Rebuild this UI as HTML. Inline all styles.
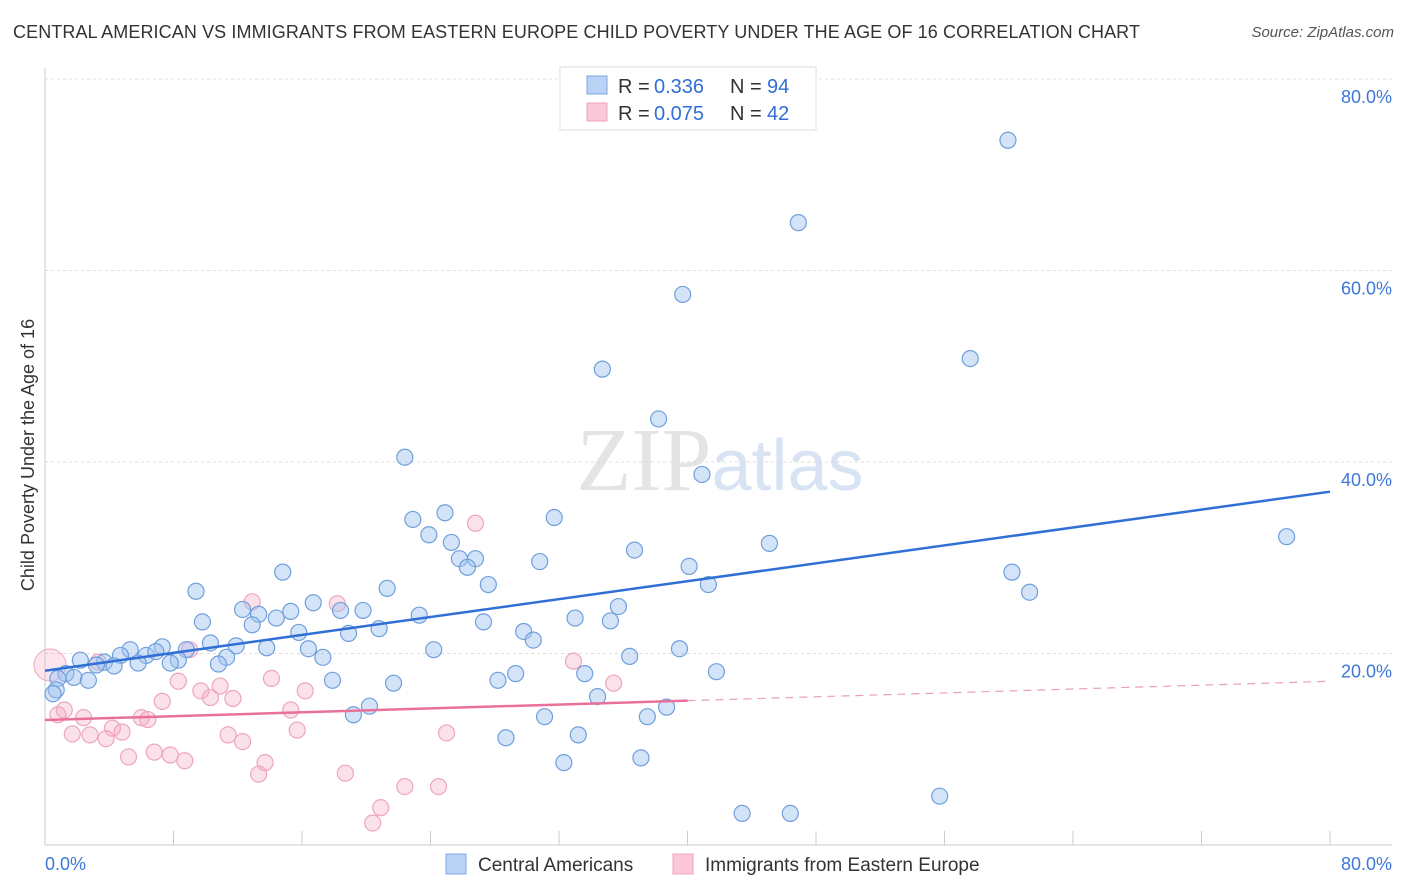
<!DOCTYPE html>
<html><head><meta charset="utf-8">
<style>
body{margin:0;background:#fff;font-family:"Liberation Sans",sans-serif;}
#wrap{position:relative;width:1406px;height:892px;overflow:hidden;}
.title{position:absolute;left:13px;top:22px;font-size:18px;color:#333;letter-spacing:0.1px}
.src{position:absolute;right:12px;top:24px;font-size:15px;color:#555;font-style:italic}
</style></head><body>
<div id="wrap">
<div class="title">CENTRAL AMERICAN VS IMMIGRANTS FROM EASTERN EUROPE CHILD POVERTY UNDER THE AGE OF 16 CORRELATION CHART</div>
<div class="src">Source: ZipAtlas.com</div>
<svg id="svg" width="1406" height="892" style="position:absolute;left:0;top:0"></svg>
</div>
<script>
const yTicks=[20,40,60,80];
const yTickLabels=["20.0%","40.0%","60.0%","80.0%"];
const blueX=[59.95,46.9,39.7,57.6,34.7,38.2,40.9,22.4,22.9,24.9,31.7,23.9,25.3,36.7,45.1,77.3,25.8,26.8,30.8,26.3,40.1,60.2,14.8,21.3,27.6,41.3,61.3,9.4,12.3,16.7,15.3,18.4,19.8,13.3,23.3,35.7,9.8,12.9,14.4,27.3,33.0,35.2,15.8,20.8,18.9,29.8,30.4,10.3,11.9,7.3,5.3,8.8,13.8,16.4,24.2,39.5,36.4,4.7,6.3,6.9,2.2,3.7,17.3,8.3,11.3,3.2,4.3,5.8,7.8,10.8,1.3,0.8,1.8,2.7,29.3,33.6,41.8,17.9,21.7,28.2,0.7,0.5,34.4,20.2,19.2,31.1,37.5,38.7,33.2,28.7,32.3,37.1,43.4,46.4,55.7];
const blueY=[73.6,65.0,57.5,50.8,49.7,44.5,38.7,40.5,34.0,34.7,34.2,32.4,31.6,30.8,31.5,32.2,29.9,29.9,29.6,29.0,29.1,28.5,28.5,26.8,27.2,27.2,26.4,26.5,24.6,25.3,24.4,24.5,24.5,24.1,24.0,24.9,23.3,23.0,23.7,23.3,23.7,23.4,22.2,22.6,22.1,22.3,21.4,21.1,20.8,20.7,20.4,20.4,20.6,20.5,20.4,20.5,19.7,19.8,19.8,20.2,19.3,19.1,19.6,19.3,19.6,18.8,18.7,19.0,19.0,18.9,17.9,17.4,17.5,17.2,17.9,17.9,18.1,17.2,16.9,17.2,16.2,15.8,15.5,14.5,13.6,13.4,13.4,14.4,11.5,11.2,8.6,9.1,3.3,3.3,5.1];
const pinkX=[26.8,12.9,18.2,32.9,3.3,9.0,8.3,14.1,35.4,7.3,10.9,16.2,9.7,10.3,11.7,15.3,1.2,0.8,2.4,6.0,6.4,4.2,4.8,15.7,1.7,2.8,3.8,11.4,12.3,25.0,6.8,5.2,7.8,8.7,13.7,13.3,18.7,22.4,24.5,20.9,20.4];
const pinkY=[33.6,25.4,25.2,19.2,19.1,20.4,17.1,17.4,16.9,15.0,16.6,16.1,16.1,15.4,15.3,14.1,14.1,13.6,13.3,13.3,13.1,12.2,11.8,12.0,11.6,11.5,11.1,11.5,10.8,11.7,9.7,9.2,9.4,8.8,8.6,7.4,7.5,6.1,6.1,3.9,2.3];
const blueLine=[18.2,36.9];   // y at x=0, y at x=80
const pinkLine=[13.05,17.1];
const NS="http://www.w3.org/2000/svg";
const svg=document.getElementById('svg');
const X0=45,X1=1330,Y0=845,Y80=79;
const sx=v=>X0+(X1-X0)*v/80;
const sy=v=>Y0-(Y0-Y80)*v/80;
function mk(t,a,p){const e=document.createElementNS(NS,t);for(const k in a)e.setAttribute(k,a[k]);(p||svg).appendChild(e);return e;}
// watermark
let wm=mk('text',{x:720,y:490,'text-anchor':'middle','font-size':90,'font-family':'Liberation Serif,serif',fill:'#e4e4e4'});


wm.innerHTML='<tspan>ZIP</tspan><tspan font-family="Liberation Sans,sans-serif" font-size="72" fill="#d8e4f4">atlas</tspan>';
// grid
yTicks.forEach((t,i)=>{
 const g=mk('line',{x1:X0,x2:1392,y1:sy(t),y2:sy(t),stroke:'#ddd','stroke-dasharray':'3,3'});
 
 
 const l=mk('text',{x:1392,y:sy(t)+24,'text-anchor':'end','font-size':18,fill:'#3c78d8'});
 
 
 l.textContent=yTickLabels[i];
});
// axes
let ax=mk('line',{x1:X0,x2:X0,y1:68,y2:Y0,stroke:'#ccc'});


let bx=mk('line',{x1:X0,x2:1392,y1:Y0,y2:Y0,stroke:'#ccc'});


for(let i=1;i<=10;i++){const t=mk('line',{x1:sx(i*8),x2:sx(i*8),y1:Y0,y2:Y0-14,stroke:'#ccc'});
 
 }
let xl0=mk('text',{x:45,y:870,'font-size':18,fill:'#3c78d8'});xl0.textContent='0.0%';


let xl1=mk('text',{x:1392,y:870,'text-anchor':'end','font-size':18,fill:'#3c78d8'});xl1.textContent='80.0%';


let yt=mk('text',{x:34,y:455,'text-anchor':'middle','font-size':18,fill:'#333',transform:'rotate(-90 34 455)'});yt.textContent='Child Poverty Under the Age of 16';


// points
pinkX.forEach((x,i)=>{const c=mk('circle',{cx:sx(x),cy:sy(pinkY[i]),r:8,fill:'rgba(244,170,195,0.35)',stroke:'#eea5bf','stroke-width':1.2});
 
 });
let big=mk('circle',{cx:50,cy:665,r:16,fill:'rgba(244,170,195,0.3)',stroke:'#eea5bf','stroke-width':1});


blueX.forEach((x,i)=>{const c=mk('circle',{cx:sx(x),cy:sy(blueY[i]),r:8,fill:'rgba(160,195,240,0.45)',stroke:'#6f9fdc','stroke-width':1.2});
 
 });
// trend lines
let bl=mk('line',{x1:sx(0),y1:sy(blueLine[0]),x2:sx(80),y2:sy(blueLine[1]),stroke:'#2f6fd6','stroke-width':2.5});


const pm=pinkLine[0]+(pinkLine[1]-pinkLine[0])*40/80;
let pl=mk('line',{x1:sx(0),y1:sy(pinkLine[0]),x2:sx(40),y2:sy(pm),stroke:'#e8709a','stroke-width':2.5});


let pd=mk('line',{x1:sx(40),y1:sy(pm),x2:sx(80),y2:sy(pinkLine[1]),stroke:'#e8a0b8','stroke-width':1.2,'stroke-dasharray':'8,6'});


// legend top
let lg=mk('g',{});


mk('rect',{x:560,y:67,width:256,height:63,fill:'#fff',stroke:'#ddd'},lg);
mk('rect',{x:587,y:76,width:20,height:18,fill:'#b9d2f5',stroke:'#7aa5e0'},lg);
mk('rect',{x:587,y:103,width:20,height:18,fill:'#fac8d8',stroke:'#eea5bf'},lg);
[[93,'0.336','94'],[120,'0.075','42']].forEach(r=>{
 const a=mk('text',{x:618,y:r[0],'font-size':20,fill:'#333'},lg);a.textContent='R =';
 const b=mk('text',{x:654,y:r[0],'font-size':20,fill:'#2f6fd6'},lg);b.textContent=r[1];
 const c=mk('text',{x:730,y:r[0],'font-size':20,fill:'#333'},lg);c.textContent='N =';
 const d=mk('text',{x:767,y:r[0],'font-size':20,fill:'#2f6fd6'},lg);d.textContent=r[2];
});
// bottom legend
let bl1=mk('g',{});


mk('rect',{x:446,y:854,width:20,height:20,fill:'#b9d2f5',stroke:'#7aa5e0'},bl1);
let b1t=mk('text',{x:478,y:871,'font-size':19,fill:'#333'},bl1);b1t.textContent='Central Americans';
let bl2=mk('g',{});


mk('rect',{x:673,y:854,width:20,height:20,fill:'#fac8d8',stroke:'#eea5bf'},bl2);
let b2t=mk('text',{x:705,y:871,'font-size':19,fill:'#333'},bl2);b2t.textContent='Immigrants from Eastern Europe';
</script>
</body></html>
